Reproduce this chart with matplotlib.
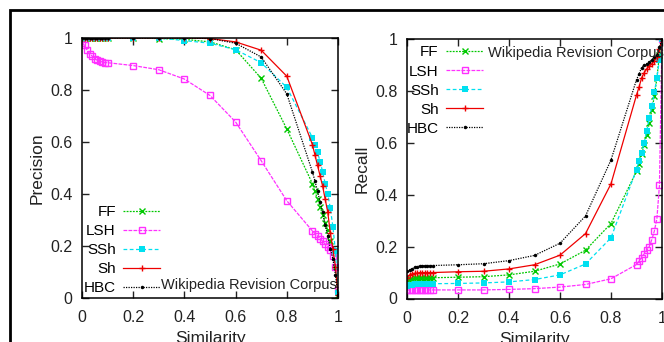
import matplotlib
matplotlib.use("Agg")
import matplotlib.pyplot as plt
from matplotlib.patches import Rectangle

# similarity thresholds (dense steps near 0 and near 1)
sim = [0.0, 0.01, 0.02, 0.03, 0.04, 0.05, 0.06, 0.07, 0.08, 0.09, 0.1,
       0.2, 0.3, 0.4, 0.5, 0.6, 0.7, 0.8,
       0.9, 0.91, 0.92, 0.93, 0.94, 0.95, 0.96, 0.97, 0.98, 0.99, 1.0]

# precision
prec_ff = [1, 1, 1, 1, 1, 1, 1, 1, 1, 1, 1,
           1, 0.998, 0.995, 0.985, 0.955, 0.845, 0.65,
           0.44, 0.41, 0.38, 0.35, 0.32, 0.29, 0.26, 0.22, 0.18, 0.12, 0.01]
prec_lsh = [0.98, 0.972, 0.953, 0.94, 0.93, 0.92, 0.914, 0.91, 0.908, 0.905, 0.905,
            0.894, 0.878, 0.842, 0.779, 0.677, 0.528, 0.374,
            0.258, 0.248, 0.238, 0.228, 0.218, 0.207, 0.197, 0.183, 0.163, 0.12, 0.03]
prec_ssh = [1, 1, 1, 1, 1, 1, 1, 1, 1, 1, 1,
            1, 1, 0.99, 0.98, 0.955, 0.905, 0.81,
            0.617, 0.59, 0.56, 0.525, 0.485, 0.44, 0.4, 0.345, 0.275, 0.18, 0.02]
prec_sh = [1, 1, 1, 1, 1, 1, 1, 1, 1, 1, 1,
           1, 1, 1, 0.998, 0.985, 0.953, 0.853,
           0.59, 0.55, 0.51, 0.47, 0.43, 0.38, 0.33, 0.25, 0.19, 0.12, 0.01]
prec_hbc = [1, 1, 1, 1, 1, 1, 1, 1, 1, 1, 1,
            1, 1, 1, 0.998, 0.98, 0.927, 0.785,
            0.485, 0.45, 0.41, 0.37, 0.33, 0.28, 0.24, 0.19, 0.15, 0.09, 0.01]

# recall
rec_ff = [0.07, 0.075, 0.077, 0.078, 0.079, 0.08, 0.08, 0.08, 0.08, 0.08, 0.08,
          0.082, 0.084, 0.091, 0.105, 0.133, 0.186, 0.289,
          0.49, 0.52, 0.555, 0.59, 0.63, 0.675, 0.725, 0.78, 0.85, 0.94, 1.0]
rec_lsh = [0.033, 0.033, 0.033, 0.033, 0.033, 0.033, 0.033, 0.033, 0.033, 0.033, 0.033,
           0.033, 0.033, 0.035, 0.038, 0.044, 0.054, 0.076,
           0.131, 0.144, 0.157, 0.172, 0.186, 0.2, 0.227, 0.26, 0.308, 0.436, 1.0]
rec_ssh = [0.05, 0.052, 0.053, 0.054, 0.055, 0.055, 0.056, 0.056, 0.056, 0.057, 0.057,
           0.058, 0.06, 0.064, 0.073, 0.091, 0.133, 0.234,
           0.497, 0.53, 0.56, 0.6, 0.645, 0.695, 0.74, 0.795, 0.85, 0.92, 1.0]
rec_sh = [0.08, 0.09, 0.095, 0.097, 0.098, 0.1, 0.1, 0.1, 0.1, 0.1, 0.1,
          0.103, 0.105, 0.114, 0.13, 0.167, 0.25, 0.442,
          0.784, 0.815, 0.85, 0.87, 0.885, 0.895, 0.905, 0.915, 0.93, 0.96, 1.0]
rec_hbc = [0.105, 0.11, 0.115, 0.12, 0.123, 0.125, 0.126, 0.127, 0.127, 0.127, 0.127,
           0.13, 0.134, 0.146, 0.166, 0.213, 0.318, 0.534,
           0.843, 0.865, 0.89, 0.9, 0.905, 0.91, 0.92, 0.93, 0.94, 0.97, 1.0]

ticks = [0, 0.2, 0.4, 0.6, 0.8, 1]
tick_labels = ["0", "0.2", "0.4", "0.6", "0.8", "1"]
names = ["FF", "LSH", "SSh", "Sh", "HBC"]
corpus = "Wikipedia Revision Corpus"

plt.rcParams["font.family"] = ["Liberation Sans", "DejaVu Sans"]

TICK_FS = 11.5
LEG_FS = 11
TXT_FS = 10.5
LAB_FS = 12.5
INK = "#222222"

styles = [
    dict(color="#00c800", ls=(0, (1.5, 1)), marker="x", ms=4, mew=1),
    dict(color="#ff30ff", ls=(0, (3, 1)), marker="s", ms=4.5, mfc="none", mew=1),
    dict(color="#00e0f0", ls=(0, (3, 2)), marker="s", ms=5, mew=0),
    dict(color="#ee0000", ls="-", marker="+", ms=4, mew=1),
    dict(color="#000000", ls=(0, (1, 1)), marker="o", ms=2.5, mew=0),
]


def panel(ax, series, ylabel):
    for name, ys, st in zip(names, series, styles):
        ax.plot(sim, ys, lw=0.9, label=name, **st)
    ax.set_xlim(0, 1)
    ax.set_ylim(0, 1)
    ax.set_xticks(ticks)
    ax.set_xticklabels(tick_labels)
    ax.set_yticks(ticks)
    ax.set_yticklabels(tick_labels)
    ax.tick_params(direction="in", length=5, width=1, top=True, right=True,
                   labelsize=TICK_FS, pad=7, colors=INK)
    ax.tick_params(axis="x", pad=9)
    for sp in ax.spines.values():
        sp.set_linewidth(1.1)
    ax.set_xlabel("Similarity", fontsize=LAB_FS, labelpad=4, color=INK)
    ax.set_ylabel(ylabel, fontsize=LAB_FS, labelpad=4, color=INK)


fig = plt.figure(figsize=(6.64, 3.42), dpi=100)
ax1 = fig.add_axes([82 / 664, 44 / 342, 256 / 664, 260 / 342])
ax2 = fig.add_axes([407 / 664, 43.5 / 342, 255 / 664, 259.5 / 342])

panel(ax1, [prec_ff, prec_lsh, prec_ssh, prec_sh, prec_hbc], "Precision")
panel(ax2, [rec_ff, rec_lsh, rec_ssh, rec_sh, rec_hbc], "Recall")

leg_kw = dict(markerfirst=False, numpoints=1, frameon=False, fontsize=LEG_FS,
              handlelength=2.4, handletextpad=0.5, labelspacing=0.33,
              borderpad=0, borderaxespad=0)
ax1.legend(loc="lower right", bbox_to_anchor=(0.305, 0.01), **leg_kw)
ax2.legend(loc="upper right", bbox_to_anchor=(0.298, 0.975), **leg_kw)

ax1.text(0.31, 0.05, corpus, transform=ax1.transAxes, fontsize=TXT_FS,
         va="center", ha="left", color=INK)
ax2.text(0.318, 0.945, corpus, transform=ax2.transAxes, fontsize=TXT_FS,
         va="center", ha="left", color=INK)

# outer frame, cut off at right and bottom
fig.add_artist(Rectangle((10 / 664, -0.5), 2, 1 - 10 / 342 + 0.5,
                         transform=fig.transFigure, fill=False, lw=2, ec="black"))

fig.savefig("out.png", dpi=100)
